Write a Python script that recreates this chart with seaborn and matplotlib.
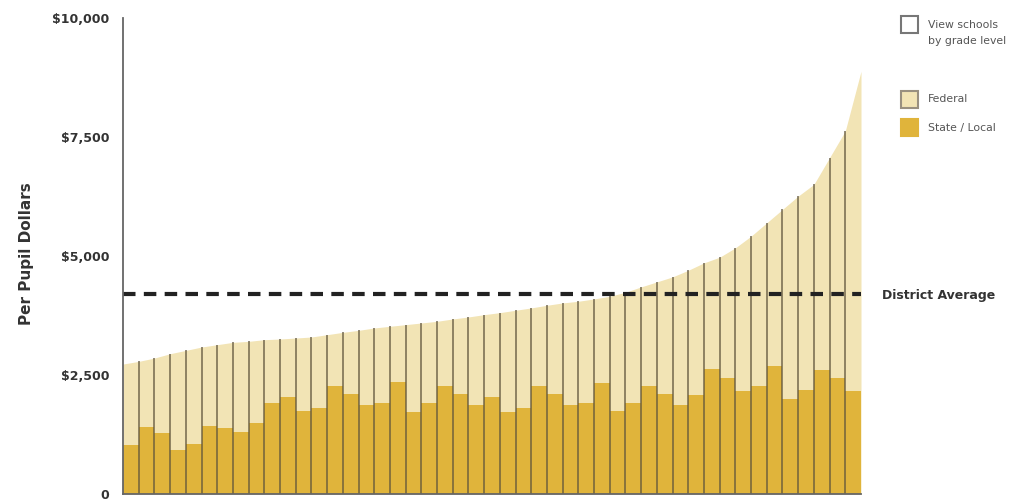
import matplotlib
matplotlib.use("Agg")
import matplotlib.pyplot as plt
from matplotlib.patches import Rectangle
import numpy as np
import pandas as pd
import seaborn as sns

# State / local funding per school (one bar per school, sorted by total)
state_local = [1032, 1404, 1291, 926, 1046, 1438, 1396, 1299, 1501, 1909,
               2048, 1747, 1804, 2259, 2105, 1874, 1909, 2343, 1733, 1909,
               2259, 2105, 1874, 2048, 1733, 1817, 2274, 2105, 1874, 1909,
               2330, 1747, 1909, 2274, 2105, 1874, 2084, 2625, 2435, 2154,
               2259, 2695, 1993, 2189, 2611, 2435, 2154]

# Total (federal + state/local) traced along the bar edges
total_edges = [2730, 2786, 2856, 2947, 3017, 3087, 3137, 3186, 3207, 3242,
               3256, 3277, 3298, 3347, 3396, 3438, 3488, 3523, 3558, 3593,
               3628, 3677, 3719, 3768, 3810, 3860, 3909, 3965, 4014, 4049,
               4098, 4154, 4238, 4351, 4456, 4561, 4700, 4856, 4975, 5172,
               5417, 5698, 5979, 6259, 6505, 7067, 7628, 8880]

district_average = 4200
y_ticks = [0, 2500, 5000, 7500, 10000]
y_tick_labels = ["0", "$2,500", "$5,000", "$7,500", "$10,000"]

FED_COLOR = "#F2E4B5"
STATE_COLOR = "#E0B43B"
SEP_COLOR = "#5f543c"
TEXT_COLOR = "#333333"

W, H = 1011, 504

sns.set_style("white")
plt.rcParams["font.family"] = ["DejaVu Sans"]

fig = plt.figure(figsize=(W / 100, H / 100), dpi=100)
ax = fig.add_axes([123 / W, 10 / H, (861 - 123) / W, (494 - 18) / H])

df = pd.DataFrame({
    "school": [f"S{i + 1}" for i in range(len(state_local))],
    "state_local": state_local,
})

# federal layer: area up to the total
edges_x = np.arange(len(total_edges)) - 0.5
ax.fill_between(edges_x, 0, total_edges, color=FED_COLOR, lw=0, zorder=0)

# state / local bars
sns.barplot(data=df, x="school", y="state_local", color=STATE_COLOR,
            width=1.0, saturation=1, linewidth=0, ax=ax, zorder=1)

# thin separators between schools
ax.vlines(edges_x[1:-1], 0, total_edges[1:-1], color=SEP_COLOR,
          lw=1.2, alpha=0.8, zorder=2)

# district average
ax.axhline(district_average, color="#222222", lw=3, dashes=(3.0, 2.0),
           zorder=3)
fig.text(882 / W, 1 - 295 / H, "District Average", fontsize=9,
         fontweight="bold", color=TEXT_COLOR, va="center", ha="left")

ax.set_xlim(-0.5, len(state_local) - 0.5)
ax.set_ylim(0, 10000)
ax.set_xticks([])
ax.set_yticks(y_ticks)
ax.set_yticklabels(y_tick_labels, fontsize=9, fontweight="bold",
                   color=TEXT_COLOR)
ax.tick_params(axis="y", length=0, pad=10)
ax.set_xlabel("")
ax.set_ylabel("")

for side in ["top", "right"]:
    ax.spines[side].set_visible(False)
for side in ["left", "bottom"]:
    ax.spines[side].set_color("#666666")
    ax.spines[side].set_linewidth(1.3)
ax.spines["left"].set_zorder(5)

fig.text(26 / W, 1 - 254 / H, "Per Pupil Dollars", rotation=90,
         fontsize=11, fontweight="bold", color=TEXT_COLOR,
         va="center", ha="center")

# legend drawn by hand on the right
def legend_box(y_top, face, edge):
    fig.add_artist(Rectangle((901 / W, 1 - (y_top + 17) / H), 17 / W, 17 / H,
                             transform=fig.transFigure, facecolor=face,
                             edgecolor=edge, lw=1.5))

legend_box(16, "white", "#777777")
fig.text(928 / W, 1 - 25 / H, "View schools", fontsize=7.8, color="#555555",
         va="center")
fig.text(928 / W, 1 - 41 / H, "by grade level", fontsize=7.8, color="#555555",
         va="center")
legend_box(91, FED_COLOR, "#999080")
fig.text(928 / W, 1 - 99 / H, "Federal", fontsize=7.8, color="#555555",
         va="center")
legend_box(119, STATE_COLOR, STATE_COLOR)
fig.text(928 / W, 1 - 128 / H, "State / Local", fontsize=7.8, color="#555555",
         va="center")

fig.savefig("out.png", dpi=100)
